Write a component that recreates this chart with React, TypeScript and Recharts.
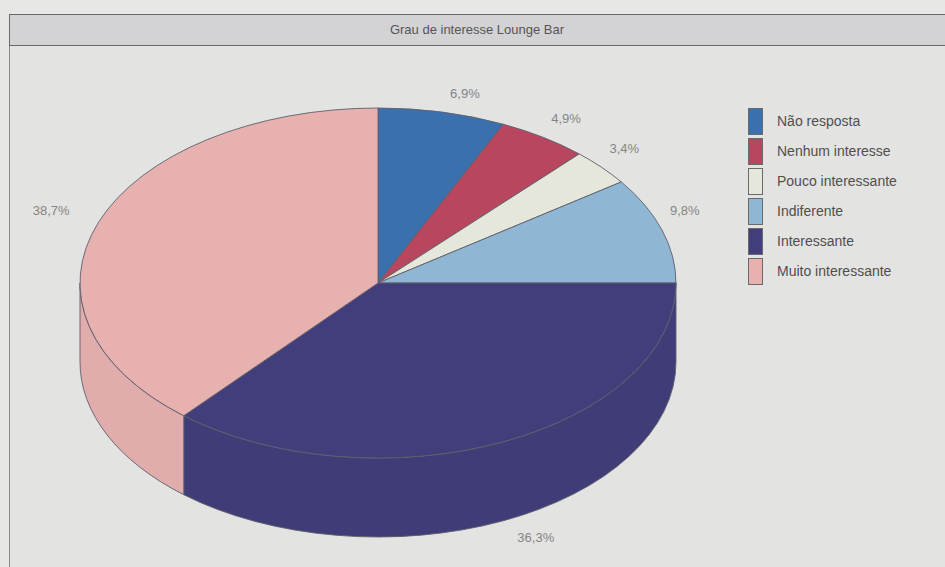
import React from 'react';
import { PieChart, Pie, Cell, Legend, Tooltip } from 'recharts';

const categories = ['Não resposta', 'Nenhum interesse', 'Pouco interessante', 'Indiferente', 'Interessante', 'Muito interessante'];
const shares = [6.9, 4.9, 3.4, 9.8, 36.3, 38.7];
const colors = ['#3b70ae', '#b9465f', '#e5e7da', '#8fb6d3', '#423e7b', '#e7b1b0'];

const title = 'Grau de interesse Lounge Bar';

// ellipse geometry of the "3d" pie
const CX = 378;
const CY = 283;
const RX = 298;
const RY = 175;
const DEPTH = 79;
const RAD = Math.PI / 180;
const FONT = '"Liberation Sans", Arial, sans-serif';

const data = categories.map((name, i) => ({ name, value: shares[i], fill: colors[i] }));

function darken(hex: string, k: number) {
  const n = parseInt(hex.slice(1), 16);
  const r = Math.round(((n >> 16) & 255) * k);
  const g = Math.round(((n >> 8) & 255) * k);
  const b = Math.round((n & 255) * k);
  return `rgb(${r},${g},${b})`;
}

function EllipseSlice(props: any) {
  const { cx, cy, outerRadius, startAngle, endAngle, fill } = props;
  const rx = outerRadius;
  const ry = (outerRadius * RY) / RX;
  const pt = (a: number, dy = 0) => `${cx + rx * Math.cos(a * RAD)},${cy - ry * Math.sin(a * RAD) + dy}`;

  const large = Math.abs(endAngle - startAngle) > 180 ? 1 : 0;
  const sweep = endAngle < startAngle ? 1 : 0;
  const top = `M${cx},${cy} L${pt(startAngle)} A${rx},${ry} 0 ${large} ${sweep} ${pt(endAngle)} Z`;

  // front side walls: parts of the arc in the lower half of the ellipse
  const lo = Math.min(startAngle, endAngle);
  const hi = Math.max(startAngle, endAngle);
  const walls: string[] = [];
  for (let k = -2; k <= 1; k++) {
    const a = Math.max(lo, -180 + 360 * k);
    const b = Math.min(hi, 360 * k);
    if (b - a > 0.01) {
      walls.push(
        `M${pt(b)} A${rx},${ry} 0 0 1 ${pt(a)} L${pt(a, DEPTH)} A${rx},${ry} 0 0 0 ${pt(b, DEPTH)} Z`
      );
    }
  }

  return (
    <g>
      {walls.map((d, i) => (
        <path key={i} d={d} fill={darken(fill, 0.975)} stroke="#5f5f6c" strokeWidth={0.9} />
      ))}
      <path d={top} fill={fill} stroke="#5f5f6c" strokeWidth={0.9} />
    </g>
  );
}

function renderLabel(props: any) {
  const { cx, cy, midAngle, outerRadius, value } = props;
  const rx = outerRadius;
  const ry = (outerRadius * RY) / RX;
  const c = Math.cos(midAngle * RAD);
  const s = Math.sin(midAngle * RAD);
  let x = cx + rx * c;
  let y = cy - ry * s;
  const front = s < 0;
  const right = c >= 0;
  if (front) y += DEPTH + 16;
  else y -= right ? 19 : 12;
  x += right ? (front ? 15 : 8) : -29;
  return (
    <text
      x={x}
      y={y}
      textAnchor={right ? 'start' : 'end'}
      dominantBaseline="central"
      fontSize={13}
      fontFamily={FONT}
      fill="#858585"
    >
      {value.toFixed(1).replace('.', ',') + '%'}
    </text>
  );
}

function renderLegend() {
  return (
    <div style={{ fontFamily: FONT }}>
      {data.map((d, i) => (
        <div key={i} style={{ display: 'flex', alignItems: 'center', height: 30 }}>
          <div
            style={{
              width: 15,
              height: 27,
              background: d.fill,
              border: '1px solid #6a6a6a',
              marginRight: 14,
              boxSizing: 'border-box',
            }}
          />
          <span style={{ fontSize: 14, color: '#4f4f4f', whiteSpace: 'nowrap' }}>{d.name}</span>
        </div>
      ))}
    </div>
  );
}

export default function App() {
  return (
    <div style={{ position: 'absolute', left: 0, top: 0, width: 945, height: 567, background: '#e7e7e6', overflow: 'hidden' }}>
      <div
        style={{
          position: 'absolute',
          left: 9,
          top: 14,
          width: 950,
          height: 560,
          background: '#e3e3e1',
          borderLeft: '1px solid #8a8a8a',
        }}
      />
      <div
        style={{
          position: 'absolute',
          left: 9,
          top: 14,
          width: 950,
          height: 30,
          background: '#d3d3d5',
          borderTop: '1px solid #6a6a6a',
          borderBottom: '1px solid #6a6a6a',
          borderLeft: '1px solid #6a6a6a',
        }}
      />
      <div
        style={{
          position: 'absolute',
          left: 9,
          top: 15,
          width: 936,
          height: 30,
          lineHeight: '30px',
          textAlign: 'center',
          fontFamily: FONT,
          fontSize: 13,
          color: '#555',
        }}
      >
        {title}
      </div>
      <div style={{ position: 'absolute', left: 0, top: 0 }}>
        <PieChart width={945} height={567} margin={{ top: 0, right: 0, bottom: 0, left: 0 }}>
          <Pie
            data={data}
            dataKey="value"
            nameKey="name"
            cx={CX}
            cy={CY}
            outerRadius={RX}
            startAngle={90}
            endAngle={-270}
            isAnimationActive={false}
            labelLine={false}
            label={renderLabel}
            shape={EllipseSlice}
            activeShape={EllipseSlice}
            inactiveShape={EllipseSlice}
          >
            {data.map((d, i) => (
              <Cell key={i} fill={d.fill} />
            ))}
          </Pie>
          <Tooltip defaultIndex={0} content={() => null} cursor={false} />
          <Legend
            layout="vertical"
            verticalAlign="top"
            align="right"
            content={renderLegend}
            wrapperStyle={{ position: 'absolute', left: 748, top: 106, width: 195 }}
          />
        </PieChart>
      </div>
    </div>
  );
}
